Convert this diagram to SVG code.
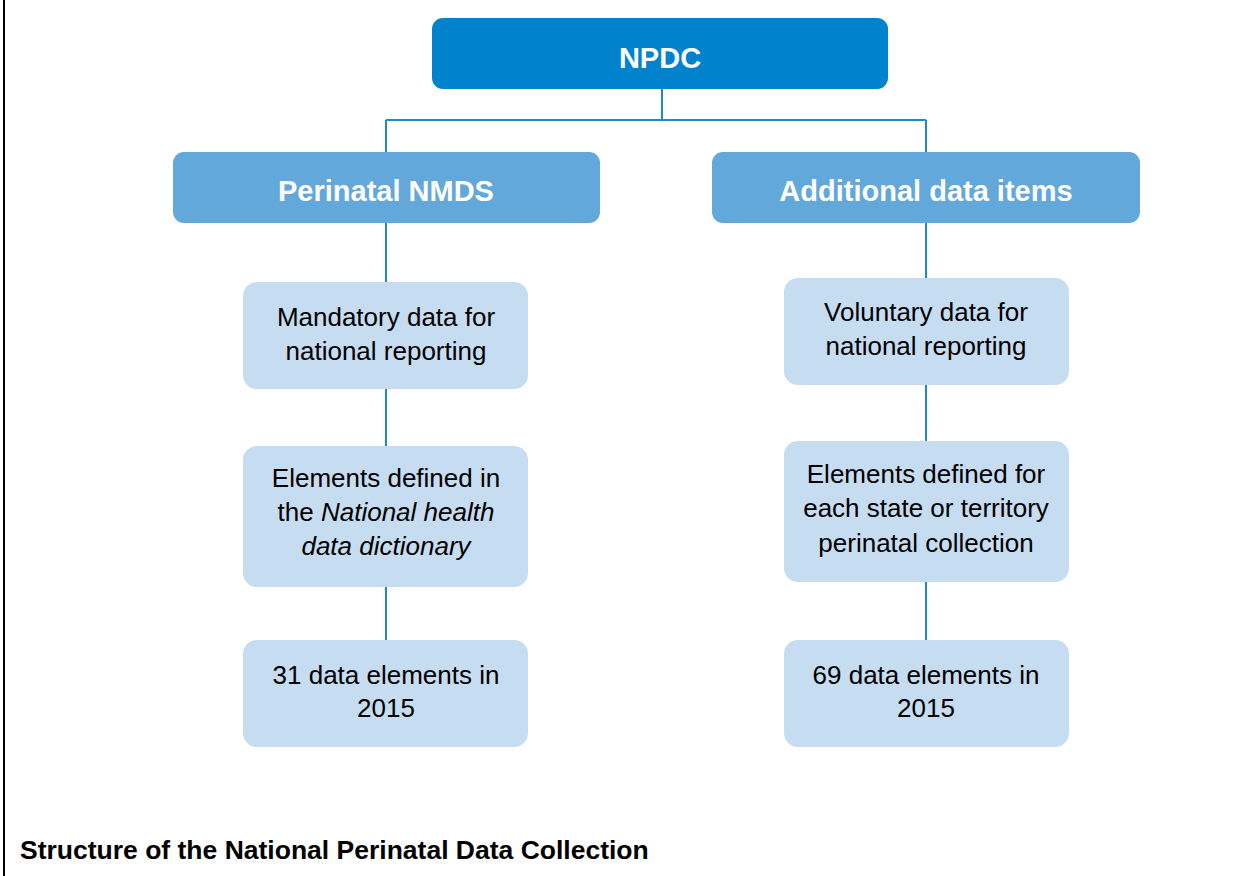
<svg xmlns="http://www.w3.org/2000/svg" width="1242" height="876" viewBox="0 0 1242 876">
<style>
.t{font-family:"Liberation Sans",Arial,sans-serif;}
.top{fill:#0083CC;}
.mid{fill:#62A8DB;}
.leaf{fill:#C6DDF1;}
.h{font-size:29px;font-weight:bold;fill:#ffffff;text-anchor:middle;}
.b{font-size:26px;fill:#000000;text-anchor:middle;}
.c{stroke:#1E88C8;stroke-width:2;fill:none;}
</style>
<rect width="1242" height="876" fill="#ffffff"/>
<line x1="4" y1="0" x2="4" y2="876" stroke="#000" stroke-width="2"/>
<g id="connectors">
<path class="c" d="M662 88 V120 M386 120 H926 M386 120 V152 M926 120 V152"/>
<path class="c" d="M386 222 V640"/>
<path class="c" d="M926 222 V640"/>
</g>
<g id="npdc">
<rect class="top" x="432" y="18" width="456" height="71" rx="11"/>
<text class="t h" x="660" y="68">NPDC</text>
</g>
<g id="perinatal-nmds">
<rect class="mid" x="173" y="152" width="427" height="71" rx="11"/>
<text class="t h" x="386" y="201">Perinatal NMDS</text>
</g>
<g id="additional-data-items">
<rect class="mid" x="712" y="152" width="428" height="71" rx="11"/>
<text class="t h" x="926" y="201">Additional data items</text>
</g>
<g id="mandatory">
<rect class="leaf" x="243" y="282" width="285" height="107" rx="14"/>
<text class="t b" x="386" y="326">Mandatory data for</text>
<text class="t b" x="386" y="360">national reporting</text>
</g>
<g id="elements-defined-in">
<rect class="leaf" x="243" y="446" width="285" height="141" rx="14"/>
<text class="t b" x="386" y="487">Elements defined in</text>
<text class="t b" x="386" y="521">the <tspan font-style="italic">National health</tspan></text>
<text class="t b" x="386" y="555" font-style="italic">data dictionary</text>
</g>
<g id="n31">
<rect class="leaf" x="243" y="640" width="285" height="107" rx="14"/>
<text class="t b" x="386" y="684">31 data elements in</text>
<text class="t b" x="386" y="717">2015</text>
</g>
<g id="voluntary">
<rect class="leaf" x="784" y="278" width="285" height="107" rx="14"/>
<text class="t b" x="926" y="321">Voluntary data for</text>
<text class="t b" x="926" y="355">national reporting</text>
</g>
<g id="elements-defined-for">
<rect class="leaf" x="784" y="441" width="285" height="141" rx="14"/>
<text class="t b" x="926" y="483">Elements defined for</text>
<text class="t b" x="926" y="517">each state or territory</text>
<text class="t b" x="926" y="552">perinatal collection</text>
</g>
<g id="n69">
<rect class="leaf" x="784" y="640" width="285" height="107" rx="14"/>
<text class="t b" x="926" y="684">69 data elements in</text>
<text class="t b" x="926" y="717">2015</text>
</g>
<text class="t" x="20" y="859" font-size="26.5" font-weight="bold" fill="#000">Structure of the National Perinatal Data Collection</text>
</svg>
